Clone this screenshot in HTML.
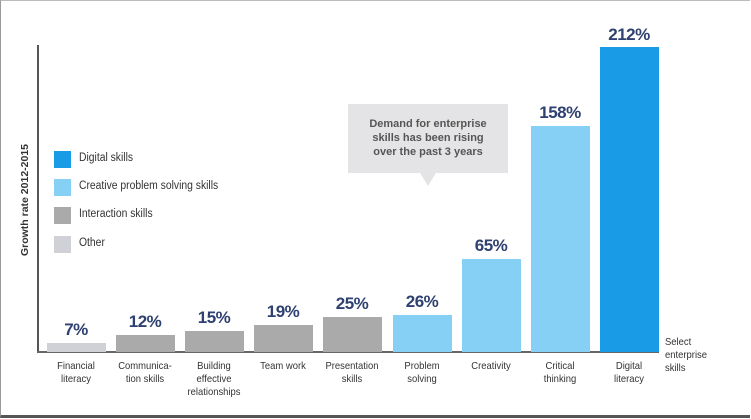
<!DOCTYPE html>
<html><head><style>
body{margin:0;width:751px;height:419px;background:#fff;overflow:hidden;position:relative;font-family:"Liberation Sans",sans-serif}
.f{position:absolute;left:0;top:0;width:749px;height:414px;border-top:1px solid #bbb;border-left:1px solid #999;border-bottom:3px solid #555}
.b{position:absolute;bottom:67px;width:59px}
.v{position:absolute;width:80px;text-align:center;font-weight:bold;font-size:17px;color:#2f4170;letter-spacing:-0.5px}
.c{position:absolute;top:360px;width:80px;text-align:center;font-size:10.5px;line-height:13px;color:#333;transform:scaleX(.9)}
.lg{position:absolute;left:54px;width:17px;height:17px}
.lt{position:absolute;left:79px;font-size:11.5px;color:#333;transform-origin:left;transform:scaleX(.9)}
</style></head><body>
<div class="f"></div>
<div style="position:absolute;left:37px;top:45px;width:2px;height:308px;background:#555"></div>
<div style="position:absolute;left:37px;top:351px;width:622px;height:2px;background:#666"></div>
<div style="position:absolute;left:25px;top:200px;transform:translate(-50%,-50%) rotate(-90deg);font-size:10.5px;font-weight:bold;color:#333;white-space:nowrap">Growth rate 2012-2015</div>

<div class="lg" style="top:151px;background:#1a9be6"></div><div class="lt" style="top:152px">Digital skills</div>
<div class="lg" style="top:179px;background:#87d0f5"></div><div class="lt" style="top:180px">Creative problem solving skills</div>
<div class="lg" style="top:207px;background:#aaa"></div><div class="lt" style="top:208px">Interaction skills</div>
<div class="lg" style="top:236px;background:#cfd1d6"></div><div class="lt" style="top:237px">Other</div>

<div style="position:absolute;left:348px;top:104px;width:160px;height:69px;background:#e4e4e6;font-size:11px;font-weight:bold;color:#555;text-align:center;line-height:14px;box-sizing:border-box;padding-top:13px">Demand for enterprise<br>skills has been rising<br>over the past 3 years</div>
<div style="position:absolute;left:420px;top:173px;width:0;height:0;border-left:8px solid transparent;border-right:8px solid transparent;border-top:13px solid #e4e4e6"></div>

<div class="b" style="left:47px;height:9px;background:#cfd1d6"></div>
<div class="b" style="left:116px;height:17px;background:#aaa"></div>
<div class="b" style="left:185px;height:21px;background:#aaa"></div>
<div class="b" style="left:254px;height:27px;background:#aaa"></div>
<div class="b" style="left:323px;height:35px;background:#aaa"></div>
<div class="b" style="left:393px;height:37px;background:#87d0f5"></div>
<div class="b" style="left:462px;height:93px;background:#87d0f5"></div>
<div class="b" style="left:531px;height:226px;background:#87d0f5"></div>
<div class="b" style="left:600px;height:305px;background:#1a9be6"></div>

<div class="v" style="left:36px;top:320px">7%</div>
<div class="v" style="left:105px;top:312px">12%</div>
<div class="v" style="left:174px;top:308px">15%</div>
<div class="v" style="left:243px;top:302px">19%</div>
<div class="v" style="left:312px;top:294px">25%</div>
<div class="v" style="left:382px;top:292px">26%</div>
<div class="v" style="left:451px;top:236px">65%</div>
<div class="v" style="left:520px;top:103px">158%</div>
<div class="v" style="left:589px;top:25px">212%</div>

<div class="c" style="left:36px">Financial<br>literacy</div>
<div class="c" style="left:105px">Communica-<br>tion skills</div>
<div class="c" style="left:174px">Building<br>effective<br>relationships</div>
<div class="c" style="left:243px">Team work</div>
<div class="c" style="left:312px">Presentation<br>skills</div>
<div class="c" style="left:382px">Problem<br>solving</div>
<div class="c" style="left:451px">Creativity</div>
<div class="c" style="left:520px">Critical<br>thinking</div>
<div class="c" style="left:589px">Digital<br>literacy</div>
<div class="c" style="left:665px;top:336px;text-align:left;width:60px;transform-origin:left">Select<br>enterprise<br>skills</div>
</body></html>
